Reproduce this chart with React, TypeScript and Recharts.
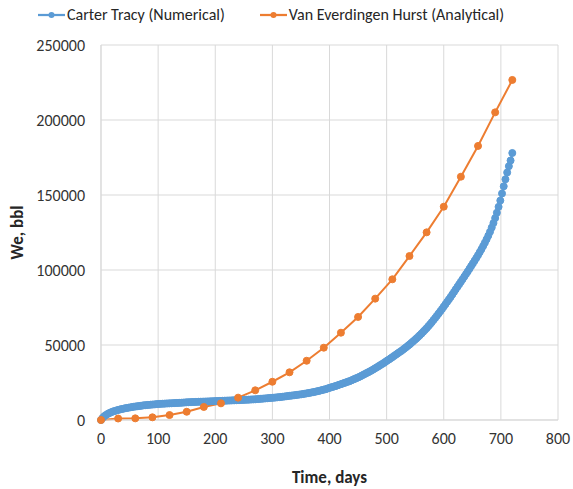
import React from 'react'
import { LineChart, Line, XAxis, YAxis, CartesianGrid, Legend } from 'recharts'

const BLUE = '#5B9BD5'
const ORANGE = '#ED7D31'
const FONT = "Carlito, Lato, 'Liberation Sans', sans-serif"

// Carter Tracy run: one value every 3 days, from day 0 to day 720
const CT_STEP_DAYS = 3
const CT_WE = [
  0, 1500, 2600, 3400, 4100, 4700, 5200, 5700, 6000, 6400, 6700,
  7000, 7300, 7500, 7800, 8000, 8200, 8400, 8600, 8800, 9000,
  9100, 9300, 9400, 9600, 9800, 9900, 10000, 10100, 10200, 10300, 10400, 10500, 10650,
  10700, 10800, 10850, 10900, 11000, 11050, 11100, 11150, 11200, 11300, 11350, 11400, 11450, 11500, 11600, 11700, 11800,
  11850, 11900, 11950, 12000, 12050, 12100, 12150, 12150, 12200, 12250, 12300, 12350, 12400, 12450, 12500, 12550, 12600,
  12650, 12700, 12750, 12800, 12850, 12900, 12950, 13000, 13050, 13100, 13150, 13200, 13250, 13300, 13350, 13400,
  13450, 13500, 13550, 13600, 13700, 13750, 13800, 13900, 14000, 14100, 14200, 14300, 14400, 14500, 14600, 14700, 14800,
  14900, 15000, 15150, 15250, 15400, 15500, 15650, 15800, 15950, 16100, 16250, 16400, 16550, 16700, 16850, 17000, 17150,
  17350, 17550, 17750, 17950, 18150, 18400, 18600, 18850, 19100, 19350, 19650, 19950, 20250, 20550, 20900, 21300,
  21650, 22000, 22350, 22700, 23100, 23500, 23900, 24300, 24700, 25100, 25500, 25900, 26400, 26900, 27400, 27900, 28400,
  28900, 29500, 30100, 30700, 31300, 31900, 32500, 33100, 33800, 34500, 35200, 35900, 36600, 37300, 38000, 38800, 39600,
  40300, 41100, 41900, 42700, 43500, 44300, 45100, 45900, 46700, 47600, 48500, 49400, 50300, 51300, 52300, 53300, 54300,
  55400, 56500, 57600, 58800, 60000, 61200, 62500, 63800, 65200, 66600, 68000, 69500, 71000, 72500, 74000, 75600,
  77200, 78800, 80400, 82000, 83700, 85400, 87100, 88800, 90500, 92200, 93900, 95600, 97300, 99000, 100800, 102600,
  104400, 106200, 108000, 109900, 111900, 113900, 116000, 118200, 120500, 122900, 125500, 128300, 131300, 134600, 138200, 142100, 146300,
  151000, 155800, 160500, 165000, 169200, 173000, 178000,
]

// Van Everdingen Hurst: one value every 30 days
const VEH_DAYS = [0, 30, 60, 90, 120, 150, 180, 210, 240, 270, 300, 330, 360, 390, 420, 450, 480, 510, 540, 570, 600, 630, 660, 690, 720]
const VEH_WE = [
  0, 1000, 1100, 1800, 3300, 5500, 8700, 11100, 14900, 19800, 25500, 31800, 39500,
  48200, 58200, 68700, 80900, 93800, 109300, 125100, 142200, 162200, 182700, 205100, 226700,
]

const X_TICKS = [0, 100, 200, 300, 400, 500, 600, 700, 800]
const Y_TICKS = [0, 50000, 100000, 150000, 200000, 250000]

const ctData = CT_WE.map((we, i) => ({ day: i * CT_STEP_DAYS, we }))
const vehData = VEH_DAYS.map((day, i) => ({ day, we: VEH_WE[i] }))

const SERIES = [
  { name: 'Carter Tracy (Numerical)', color: BLUE },
  { name: 'Van Everdingen Hurst (Analytical)', color: ORANGE },
]

function LegendBox() {
  return (
    <div style={{ display: 'flex', paddingLeft: 38, fontFamily: FONT, fontSize: 16, color: '#262626', lineHeight: '19px' }}>
      {SERIES.map((s, i) => (
        <div key={s.name} style={{ display: 'flex', alignItems: 'center', marginRight: i === 0 ? 35 : 0 }}>
          <svg width={27} height={10} style={{ marginRight: 2 }}>
            <line x1={0} y1={5} x2={27} y2={5} stroke={s.color} strokeWidth={2.25} />
            <circle cx={13.5} cy={5} r={3} fill={s.color} />
          </svg>
          <span>{s.name}</span>
        </div>
      ))}
    </div>
  )
}

function YTitle({ viewBox }: any) {
  const cx = viewBox.x + 17
  const cy = viewBox.y + viewBox.height / 2
  return (
    <text x={cx} y={cy} transform={`rotate(-90 ${cx} ${cy})`} textAnchor="middle" dominantBaseline="central"
      fontFamily={FONT} fontSize={17} fontWeight="bold" fill="#262626">
      We, bbl
    </text>
  )
}

export default function App() {
  const tick = { fontFamily: FONT, fontSize: 16, fill: '#333333' }
  return (
    <div style={{ position: 'absolute', left: 0, top: 0, background: '#fff' }}>
      <LineChart width={573} height={489} margin={{ top: 5, right: 15, bottom: 0, left: 0 }}>
        <CartesianGrid stroke="#d9d9d9" />
        <XAxis dataKey="day" type="number" domain={[0, 800]} ticks={X_TICKS} allowDuplicatedCategory={false}
          axisLine={{ stroke: '#d9d9d9' }} tickLine={false} tickSize={0} tickMargin={13} tick={tick} height={69}
          label={{ value: 'Time, days', position: 'insideBottom', offset: 6, fontFamily: FONT, fontSize: 17, fontWeight: 'bold', fill: '#262626' }} />
        <YAxis type="number" domain={[0, 250000]} ticks={Y_TICKS} width={101}
          axisLine={{ stroke: '#d9d9d9' }} tickLine={false} tickSize={0} tickMargin={16} tick={tick}
          label={<YTitle />} />
        <Legend verticalAlign="top" height={40} content={() => <LegendBox />} />
        <Line data={ctData} dataKey="we" name={SERIES[0].name} stroke={BLUE} strokeWidth={2.25}
          dot={{ r: 3.5, fill: BLUE, stroke: BLUE, strokeWidth: 1 }} isAnimationActive={false} />
        <Line data={vehData} dataKey="we" name={SERIES[1].name} stroke={ORANGE} strokeWidth={2}
          dot={{ r: 3.5, fill: ORANGE, stroke: ORANGE, strokeWidth: 1 }} isAnimationActive={false} />
      </LineChart>
    </div>
  )
}
